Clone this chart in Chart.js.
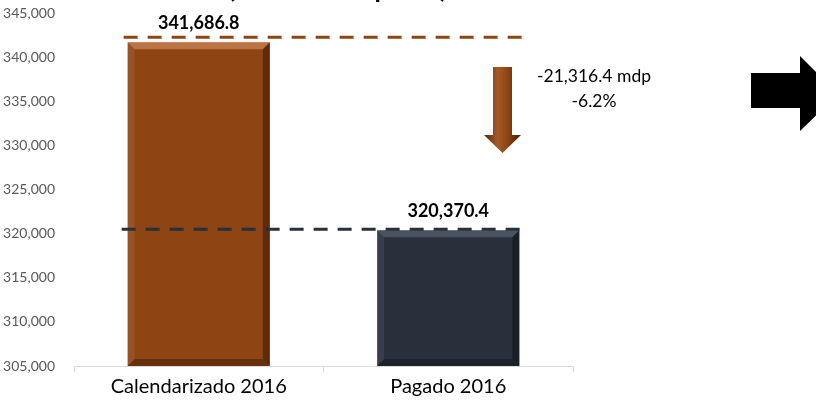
<!DOCTYPE html>
<html>
<head>
<meta charset="utf-8">
<script src="https://cdn.jsdelivr.net/npm/chart.js@4.4.0/dist/chart.umd.min.js"></script>
<style>
  html, body { margin: 0; padding: 0; background: #fff; }
  #wrap { width: 816px; height: 407px; position: relative; }
</style>
</head>
<body>
<div id="wrap"><canvas id="myChart" width="816" height="407"></canvas></div>
<script>
var categories = ['Calendarizado 2016', 'Pagado 2016'];
var values = [341686.8, 320370.4];
var barColors = ['#8f4414', '#27303b'];
var yTicks = [305000, 310000, 315000, 320000, 325000, 330000, 335000, 340000, 345000];
var diffText = ['-21,316.4 mdp', '-6.2%'];
var titleText = '(Millones de pesos)';

var FONT = 'Lato, "Open Sans", sans-serif';

function fmt(v) {
  return v.toLocaleString('en-US', { minimumFractionDigits: 1, maximumFractionDigits: 1 });
}

// bevel, labels, dashed lines and arrows
var extras = {
  id: 'extras',
  afterDatasetsDraw: function(chart) {
    var ctx = chart.ctx;
    var meta = chart.getDatasetMeta(0);
    var y = chart.scales.y;

    meta.data.forEach(function(bar, i) {
      var l = bar.x - bar.width / 2, r = bar.x + bar.width / 2;
      var t = bar.y, b = Math.min(bar.base, chart.chartArea.bottom);
      var e = 7;
      ctx.save();
      // top bevel (light)
      ctx.fillStyle = i === 0 ? 'rgba(255,190,140,0.4)' : 'rgba(150,165,180,0.3)';
      ctx.beginPath();
      ctx.moveTo(l, t); ctx.lineTo(r, t); ctx.lineTo(r - e, t + e); ctx.lineTo(l + e, t + e); ctx.closePath();
      ctx.fill();
      // left bevel
      ctx.fillStyle = 'rgba(255,255,255,0.08)';
      ctx.beginPath();
      ctx.moveTo(l, t); ctx.lineTo(l + e, t + e); ctx.lineTo(l + e, b - e); ctx.lineTo(l, b); ctx.closePath();
      ctx.fill();
      // right bevel (dark)
      ctx.fillStyle = 'rgba(0,0,0,0.35)';
      ctx.beginPath();
      ctx.moveTo(r, t); ctx.lineTo(r, b); ctx.lineTo(r - e, b - e); ctx.lineTo(r - e, t + e); ctx.closePath();
      ctx.fill();
      // bottom bevel
      ctx.fillStyle = 'rgba(0,0,0,0.28)';
      ctx.beginPath();
      ctx.moveTo(l, b); ctx.lineTo(r, b); ctx.lineTo(r - e, b - e); ctx.lineTo(l + e, b - e); ctx.closePath();
      ctx.fill();
      ctx.restore();
    });

    // dashed reference lines
    var b0 = meta.data[0];
    var x0 = b0.x - b0.width / 2 - 4;
    ctx.save();
    ctx.lineWidth = 3;
    ctx.setLineDash([14, 10]);
    ctx.strokeStyle = '#8f4414';
    ctx.beginPath();
    ctx.moveTo(x0, y.getPixelForValue(values[0]) - 5);
    ctx.lineTo(531, y.getPixelForValue(values[0]) - 5);
    ctx.stroke();
    ctx.strokeStyle = '#27303b';
    ctx.beginPath();
    ctx.moveTo(x0 - 2, y.getPixelForValue(values[1]) - 1);
    ctx.lineTo(522, y.getPixelForValue(values[1]) - 1);
    ctx.stroke();
    ctx.restore();

    // value labels
    ctx.save();
    ctx.fillStyle = '#000';
    ctx.font = 'bold 18px ' + FONT;
    ctx.textAlign = 'center';
    ctx.textBaseline = 'middle';
    meta.data.forEach(function(bar, i) {
      ctx.fillText(fmt(values[i]), bar.x, bar.y - 19);
    });
    ctx.restore();

    // down arrow
    ctx.save();
    var g = ctx.createLinearGradient(485, 0, 520, 0);
    g.addColorStop(0, '#5a2a0a');
    g.addColorStop(0.35, '#a55a28');
    g.addColorStop(0.65, '#8f4414');
    g.addColorStop(1, '#4a1f06');
    ctx.fillStyle = g;
    ctx.beginPath();
    ctx.moveTo(493, 67); ctx.lineTo(512, 67); ctx.lineTo(512, 135);
    ctx.lineTo(521, 135); ctx.lineTo(502.5, 153); ctx.lineTo(484, 135);
    ctx.lineTo(493, 135); ctx.closePath();
    ctx.fill();
    ctx.restore();

    // difference text
    ctx.save();
    ctx.fillStyle = '#000';
    ctx.font = '17.5px ' + FONT;
    ctx.textAlign = 'center';
    ctx.textBaseline = 'middle';
    ctx.fillText(diffText[0], 594, 76);
    ctx.fillText(diffText[1], 594, 101);
    ctx.restore();

    // right arrow
    ctx.save();
    ctx.fillStyle = '#000';
    ctx.beginPath();
    ctx.moveTo(751, 73); ctx.lineTo(800, 73); ctx.lineTo(800, 56);
    ctx.lineTo(838, 94); ctx.lineTo(800, 131); ctx.lineTo(800, 108);
    ctx.lineTo(751, 108); ctx.closePath();
    ctx.fill();
    ctx.restore();

    // title, cut off at top
    ctx.save();
    ctx.fillStyle = '#000';
    ctx.font = 'bold 22px ' + FONT;
    var w = ctx.measureText(titleText).width;
    ctx.textAlign = 'left';
    ctx.textBaseline = 'alphabetic';
    ctx.translate(228, 0);
    ctx.scale(219 / w, 1);
    ctx.fillText(titleText, 0, -2.5);
    ctx.restore();
  }
};

var canvas = document.getElementById('myChart');
var ctx = canvas.getContext('2d');

var myChart = new Chart(ctx, {
  type: 'bar',
  data: {
    labels: categories,
    datasets: [{
      data: values,
      backgroundColor: barColors,
      borderWidth: 0,
      categoryPercentage: 1,
      barPercentage: 0.57
    }]
  },
  options: {
    responsive: false,
    animation: false,
    layout: { padding: { top: 13, right: 243, bottom: 0, left: 0 } },
    plugins: {
      legend: { display: false },
      tooltip: { enabled: false }
    },
    scales: {
      x: {
        offset: true,
        grid: {
          offset: true,
          drawOnChartArea: false,
          drawTicks: true,
          tickLength: 6,
          color: '#d9d9d9'
        },
        border: { display: true, color: '#d9d9d9' },
        ticks: {
          color: '#000',
          font: { family: FONT, size: 20 },
          padding: 3
        },
        afterFit: function(scale) { scale.height = 41; scale.paddingLeft = 0; scale.paddingRight = 0; }
      },
      y: {
        min: 305000,
        max: 345000,
        afterBuildTicks: function(scale) {
          scale.ticks = yTicks.map(function(v) { return { value: v }; });
        },
        grid: { display: false },
        border: { display: false },
        ticks: {
          color: '#595959',
          padding: 11,
          font: { family: FONT, size: 14 },
          callback: function(v) { return v.toLocaleString('en-US'); }
        },
        afterFit: function(scale) { scale.width = 74; scale.paddingTop = 0; scale.paddingBottom = 0; }
      }
    }
  },
  plugins: [extras]
});
</script>
</body>
</html>
